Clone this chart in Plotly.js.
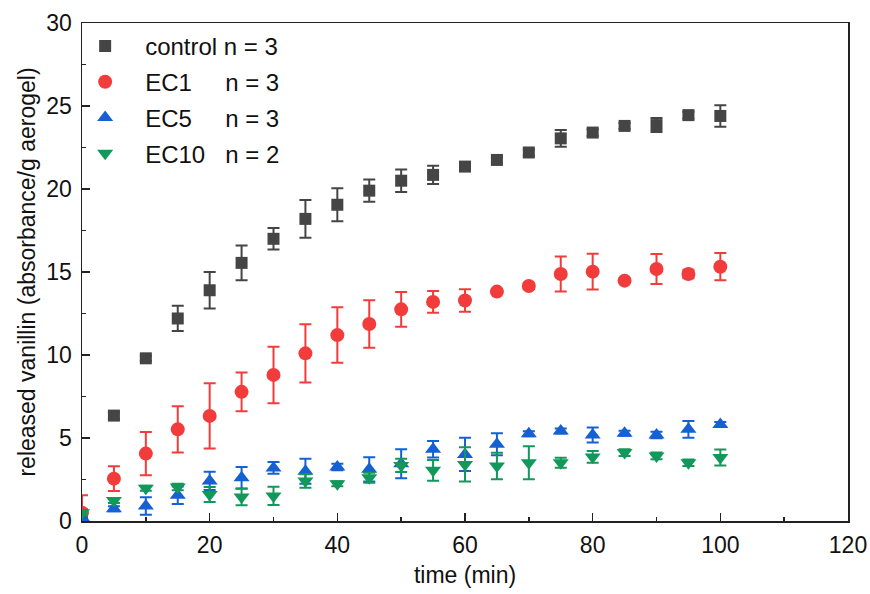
<!DOCTYPE html>
<html>
<head>
<meta charset="utf-8">
<script src="https://cdn.plot.ly/plotly-3.0.1.min.js"></script>
<style>html,body{margin:0;padding:0;background:#fff;}#chart{width:870px;height:594px;}</style>
</head>
<body>
<div id="chart"></div>
<script>
const time = [0,5,10,15,20,25,30,35,40,45,50,55,60,65,70,75,80,85,90,95,100];

const controlY   = [0.4,6.35,9.8,12.2,13.9,15.55,17.0,18.2,19.05,19.9,20.5,20.85,21.35,21.75,22.2,23.05,23.4,23.8,23.85,24.45,24.4];
const controlErr = [0.1,0.2,0.15,0.76,1.1,1.05,0.65,1.13,1.0,0.67,0.68,0.55,0.22,0.15,0.18,0.5,0.2,0.18,0.42,0.2,0.65];

const ec1Y   = [0.5,2.55,4.06,5.52,6.33,7.78,8.8,10.1,11.2,11.87,12.75,13.2,13.28,13.82,14.16,14.88,15.02,14.48,15.18,14.88,15.32];
const ec1Err = [1.05,0.75,1.3,1.4,1.97,1.17,1.7,1.75,1.67,1.43,1.05,0.66,0.68,0.12,0.18,1.05,1.08,0.05,0.9,0.25,0.82];

const ec5Y   = [0.2,0.74,0.9,1.55,2.41,2.61,3.2,3.0,3.25,3.11,3.45,4.32,4.01,4.62,5.26,5.42,5.18,5.28,5.18,5.52,5.82];
const ec5Err = [0.15,0.15,0.53,0.53,0.55,0.65,0.35,0.75,0.2,0.73,0.87,0.5,1.0,0.66,0.15,0.15,0.45,0.15,0.2,0.5,0.15];

const ec10Y   = [0.5,1.24,1.97,2.05,1.6,1.45,1.51,2.41,2.25,2.61,3.35,3.05,3.41,3.31,3.51,3.51,3.86,4.12,3.92,3.51,3.82];
const ec10Err = [0.15,0.15,0.15,0.2,0.45,0.5,0.55,0.4,0.15,0.3,0.4,0.62,1.03,0.8,1.0,0.3,0.35,0.2,0.2,0.2,0.48];

const names  = ['control n = 3','EC1\u00a0\u00a0\u00a0\u00a0\u00a0n = 3','EC5\u00a0\u00a0\u00a0\u00a0\u00a0n = 3','EC10\u00a0\u00a0\u00a0n = 2'];
const colors = ['#454545','#f23c3c','#1560d2','#12985a'];

function tr(y, err, i, symbol, size) {
  return {
    x: time, y: y, type: 'scatter', mode: 'markers', name: names[i],
    legendgroup: 'g' + i,
    marker: {symbol: symbol, size: size, color: colors[i], line: {width: 0}},
    error_y: {type: 'data', array: err, visible: true, color: colors[i], thickness: 2, width: 6}
  };
}

const data = [
  tr(controlY, controlErr, 0, 'square', 12),
  tr(ec1Y, ec1Err, 1, 'circle', 14),
  tr(ec5Y, ec5Err, 2, 'triangle-up', 14),
  tr(ec10Y, ec10Err, 3, 'triangle-down', 14)
];

const axisCommon = {
  showgrid: false, zeroline: false, showline: true, linecolor: '#222', linewidth: 1.5,
  mirror: true, ticks: 'inside', ticklen: 8, tickwidth: 1.5, tickcolor: '#222',
  tickfont: {family: 'Liberation Sans, Arial, sans-serif', size: 23, color: '#111'}
};

const layout = {
  width: 870, height: 594,
  margin: {l: 82, r: 22, t: 23, b: 73},
  paper_bgcolor: '#fff', plot_bgcolor: '#fff',
  font: {family: 'Liberation Sans, Arial, sans-serif', color: '#111'},
  showlegend: true,
  legend: {
    x: -0.022, y: 0.998, xanchor: 'left', yanchor: 'top',
    bgcolor: 'rgba(0,0,0,0)', borderwidth: 0,
    font: {size: 24, color: '#111'},
    traceorder: 'grouped', tracegroupgap: 1.5, itemwidth: 70
  },
  xaxis: Object.assign({}, axisCommon, {
    range: [0, 120], dtick: 20, tick0: 0, ticklabelstandoff: 3,
    minor: {ticks: 'inside', ticklen: 4, dtick: 10, tickwidth: 1.5, tickcolor: '#222'},
    title: {text: 'time (min)', font: {size: 23}, standoff: 10}
  }),
  yaxis: Object.assign({}, axisCommon, {
    range: [0, 30], dtick: 5, tick0: 0, ticklabelstandoff: 4,
    minor: {ticks: 'inside', ticklen: 4, dtick: 2.5, tickwidth: 1.5, tickcolor: '#222'},
    title: {text: 'released vanillin (absorbance/g aerogel)', font: {size: 23}, standoff: 4}
  })
};

Plotly.newPlot('chart', data, layout, {displayModeBar: false, staticPlot: true});
</script>
</body>
</html>
